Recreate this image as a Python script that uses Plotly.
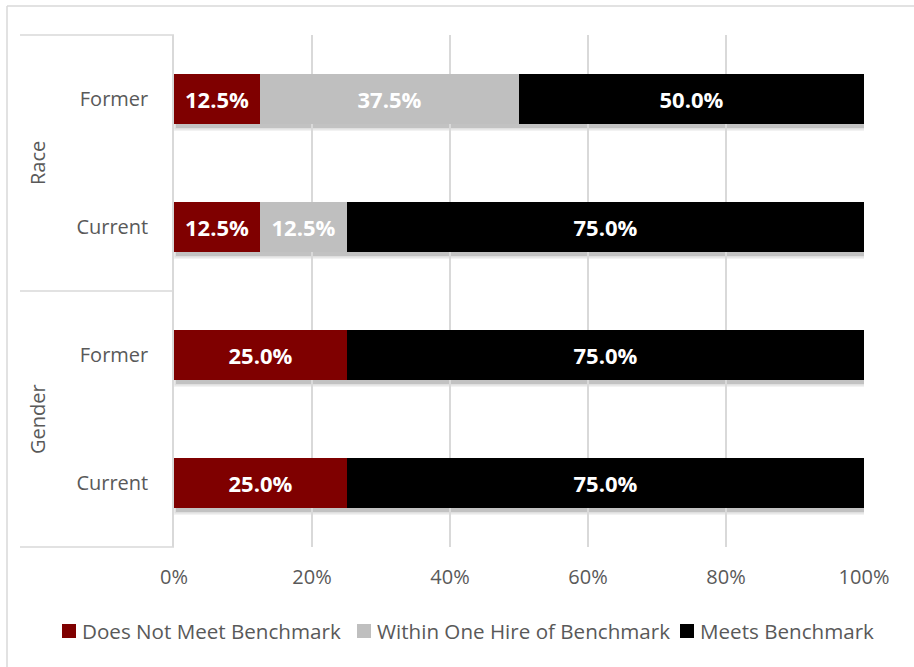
import plotly.graph_objects as go

# Benchmark status by group and period (percent of positions)
groups = ["Race", "Race", "Gender", "Gender"]
periods = ["Former", "Current", "Former", "Current"]
does_not_meet = [12.5, 12.5, 25.0, 25.0]
within_one_hire = [37.5, 12.5, 0.0, 0.0]
meets = [50.0, 75.0, 75.0, 75.0]
x_ticks = [0, 20, 40, 60, 80, 100]

series = [
    ("Does Not Meet Benchmark", does_not_meet, "#7F0000"),
    ("Within One Hire of Benchmark", within_one_hire, "#BFBFBF"),
    ("Meets Benchmark", meets, "#000000"),
]

FONT = "Open Sans"
TEXT_GRAY = "#595959"
LINE_GRAY = "#D9D9D9"
W, H = 914, 667
ML, MR, MT, MB = 174, 50, 35, 120
PW, PH = W - ML - MR, H - MT - MB
BAR_W = 0.39

rows = list(range(len(periods)))

fig = go.Figure()
for name, vals, color in series:
    fig.add_trace(go.Bar(
        name=name,
        orientation="h",
        y=rows,
        x=vals,
        width=BAR_W,
        marker=dict(color=color, line=dict(width=0)),
        text=[f"{v:.1f}%" if v > 0 else "" for v in vals],
        textposition="inside",
        insidetextanchor="middle",
        textangle=0,
        constraintext="none",
        textfont=dict(family=FONT, size=22, color="white", weight="bold"),
        hoverinfo="skip",
        showlegend=False,
    ))


def px_to_paper_x(px):
    return (px - ML) / PW


def px_to_paper_y(py):
    return (MT + PH - py) / PH


# soft drop shadow under each bar, sized from the row totals
px_x = 100.0 / PW          # data units per pixel, x
px_y = len(rows) / PH      # category units per pixel, y
shapes = []
for r in rows:
    total = does_not_meet[r] + within_one_hire[r] + meets[r]
    for grow, alpha in [(3, 0.05), (1.5, 0.08), (0, 0.13)]:
        shapes.append(dict(
            type="rect", xref="x", yref="y", layer="below",
            x0=(2 - grow) * px_x, x1=total + (3 + grow) * px_x,
            y0=r - BAR_W / 2 + 4 * px_y, y1=r + BAR_W / 2 + (4 + grow) * px_y,
            fillcolor=f"rgba(0,0,0,{alpha})", line=dict(width=0),
        ))

# multi-level category frame on the left
left_x = px_to_paper_x(20)
for yy in [1.0, 0.5, 0.0]:
    shapes.append(dict(type="line", xref="paper", yref="paper",
                       x0=left_x, x1=0, y0=yy, y1=yy,
                       line=dict(color=LINE_GRAY, width=1.5)))

# chart frame: left and top edges
shapes.append(dict(type="line", xref="paper", yref="paper",
                   x0=px_to_paper_x(7), x1=px_to_paper_x(7),
                   y0=px_to_paper_y(H + 5), y1=px_to_paper_y(6),
                   line=dict(color=LINE_GRAY, width=1.5)))
shapes.append(dict(type="line", xref="paper", yref="paper",
                   x0=px_to_paper_x(7), x1=px_to_paper_x(W + 5),
                   y0=px_to_paper_y(6), y1=px_to_paper_y(6),
                   line=dict(color=LINE_GRAY, width=1.5)))

annotations = []
group_names = []
for g in groups:
    if g not in group_names:
        group_names.append(g)
for g in group_names:
    idx = [i for i, gg in enumerate(groups) if gg == g]
    center = (min(idx) + max(idx)) / 2.0
    annotations.append(dict(
        text=g, xref="paper", yref="y", x=px_to_paper_x(37), y=center,
        showarrow=False, textangle=-90, xanchor="center", yanchor="middle",
        font=dict(family=FONT, size=20, color=TEXT_GRAY),
    ))

# legend row: square swatch followed by its label
legend_y = px_to_paper_y(631)
legend_starts = [62, 357, 680]
sw = 14
for (name, _, color), x_start in zip(series, legend_starts):
    shapes.append(dict(
        type="rect", xref="paper", yref="paper",
        x0=px_to_paper_x(x_start), x1=px_to_paper_x(x_start + sw),
        y0=px_to_paper_y(631 + sw / 2), y1=px_to_paper_y(631 - sw / 2),
        fillcolor=color, line=dict(width=0),
    ))
    annotations.append(dict(
        text=name, xref="paper", yref="paper",
        x=px_to_paper_x(x_start + sw + 4), y=legend_y,
        xanchor="left", yanchor="middle", showarrow=False,
        font=dict(family=FONT, size=20.6, color=TEXT_GRAY),
    ))

fig.update_layout(
    width=W, height=H,
    margin=dict(l=ML, r=MR, t=MT, b=MB, pad=0),
    barmode="stack",
    bargap=0,
    plot_bgcolor="white",
    paper_bgcolor="white",
    font=dict(family=FONT, size=20, color=TEXT_GRAY),
    shapes=shapes,
    annotations=annotations,
    showlegend=False,
    xaxis=dict(
        range=[0, 100], tickmode="array", tickvals=x_ticks,
        ticktext=[f"{t}%" for t in x_ticks],
        showgrid=True, gridcolor=LINE_GRAY, gridwidth=1.5,
        zeroline=False, showline=False, ticks="",
        ticklabelstandoff=16,
        tickfont=dict(family=FONT, size=20, color=TEXT_GRAY),
        fixedrange=True,
    ),
    yaxis=dict(
        range=[len(rows) - 0.5, -0.5],
        tickvals=rows, ticktext=periods,
        showgrid=False, zeroline=False,
        showline=True, linecolor=LINE_GRAY, linewidth=1.5,
        ticks="", ticklabelstandoff=20,
        tickfont=dict(family=FONT, size=20, color=TEXT_GRAY),
        fixedrange=True,
    ),
)

fig.write_html("out.html", config={"displayModeBar": False})
